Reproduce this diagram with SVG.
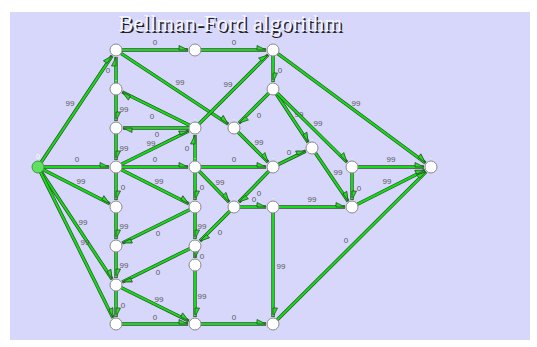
<svg xmlns="http://www.w3.org/2000/svg" width="537" height="347" viewBox="0 0 537 347">
<style>
.o{stroke:#2f4a2f;stroke-width:3.4;fill:none}
.g{stroke:#14dc14;stroke-width:2.1;fill:none;marker-end:url(#ah)}
.w{font-family:"Liberation Sans",Arial,sans-serif;font-size:8px;fill:#5a5a5a;text-anchor:middle}
.n{fill:#fff;stroke:#8a8a8a;stroke-width:1}
.s{fill:#5fe05f;stroke:#3a9a3a;stroke-width:1}
.d{font-family:"Liberation Sans",Arial,sans-serif;font-size:6px;fill:#fff;text-anchor:middle}
.t{font-family:"Liberation Serif","Times New Roman",serif;font-size:23px}
</style>
<defs>
<marker id="ah" markerUnits="userSpaceOnUse" markerWidth="12" markerHeight="12" viewBox="-10 -6 12 12" refX="0" refY="0" orient="auto" overflow="visible">
<path d="M0,0 L-9,-4.5 L-9,0 Z" fill="#22dd22" stroke="#2f4f2f" stroke-width="0.8"/>
</marker>
</defs>
<rect x="10" y="12" width="520" height="328" fill="#d7d7fb"/>
<g id="title">
<text class="t" x="119.5" y="32.5" fill="#222">Bellman-Ford algorithm</text>
<text class="t" x="118" y="31" fill="#f4f4ff">Bellman-Ford algorithm</text>
</g>
<g id="connectors">
<g><line class="o" x1="41.3" y1="162" x2="112.1" y2="55.8"/><line class="g" x1="41.3" y1="162" x2="112.1" y2="55.8"/><text class="w" x="70" y="106">99</text></g>
<g><line class="o" x1="44" y1="167" x2="109" y2="167"/><line class="g" x1="44" y1="167" x2="109" y2="167"/><text class="w" x="77" y="162">0</text></g>
<g><line class="o" x1="43.3" y1="169.7" x2="109.8" y2="203.8"/><line class="g" x1="43.3" y1="169.7" x2="109.8" y2="203.8"/><text class="w" x="81" y="184">99</text></g>
<g><line class="o" x1="41.3" y1="172" x2="112.1" y2="279.2"/><line class="g" x1="41.3" y1="172" x2="112.1" y2="279.2"/><text class="w" x="83" y="225">99</text></g>
<g><line class="o" x1="40.7" y1="172.4" x2="112.9" y2="317.7"/><line class="g" x1="40.7" y1="172.4" x2="112.9" y2="317.7"/><text class="w" x="85" y="245">99</text></g>
<g><line class="o" x1="122" y1="50" x2="188" y2="50"/><line class="g" x1="122" y1="50" x2="188" y2="50"/><text class="w" x="155" y="45">0</text></g>
<g><line class="o" x1="201" y1="50" x2="266" y2="50"/><line class="g" x1="201" y1="50" x2="266" y2="50"/><text class="w" x="234" y="45">0</text></g>
<g><line class="o" x1="116" y1="83" x2="116" y2="57"/><line class="g" x1="116" y1="83" x2="116" y2="57"/><text class="w" x="108" y="73">0</text></g>
<g><line class="o" x1="121" y1="53.3" x2="228.2" y2="124.1"/><line class="g" x1="121" y1="53.3" x2="228.2" y2="124.1"/><text class="w" x="180" y="85">99</text></g>
<g><line class="o" x1="116" y1="95" x2="116" y2="121"/><line class="g" x1="116" y1="95" x2="116" y2="121"/><text class="w" x="124" y="112">99</text></g>
<g><line class="o" x1="189.6" y1="125.3" x2="122.3" y2="92.1"/><line class="g" x1="189.6" y1="125.3" x2="122.3" y2="92.1"/><text class="w" x="152" y="119">0</text></g>
<g><line class="o" x1="189" y1="128" x2="123" y2="128"/><line class="g" x1="189" y1="128" x2="123" y2="128"/><text class="w" x="157" y="137">0</text></g>
<g><line class="o" x1="121.4" y1="164.3" x2="188.7" y2="131.1"/><line class="g" x1="121.4" y1="164.3" x2="188.7" y2="131.1"/><text class="w" x="151" y="146">99</text></g>
<g><line class="o" x1="199.2" y1="123.8" x2="268.1" y2="54.9"/><line class="g" x1="199.2" y1="123.8" x2="268.1" y2="54.9"/><text class="w" x="228" y="87">99</text></g>
<g><line class="o" x1="273" y1="56" x2="273" y2="82"/><line class="g" x1="273" y1="56" x2="273" y2="82"/><text class="w" x="280" y="73">0</text></g>
<g><line class="o" x1="277.8" y1="53.6" x2="425.4" y2="162.8"/><line class="g" x1="277.8" y1="53.6" x2="425.4" y2="162.8"/><text class="w" x="356" y="106">99</text></g>
<g><line class="o" x1="268.8" y1="93.2" x2="238.9" y2="123.1"/><line class="g" x1="268.8" y1="93.2" x2="238.9" y2="123.1"/><text class="w" x="259" y="118">0</text></g>
<g><line class="o" x1="276.3" y1="94" x2="308.1" y2="142.2"/><line class="g" x1="276.3" y1="94" x2="308.1" y2="142.2"/><text class="w" x="299" y="117">99</text></g>
<g><line class="o" x1="277.3" y1="93.2" x2="347" y2="162.1"/><line class="g" x1="277.3" y1="93.2" x2="347" y2="162.1"/><text class="w" x="318" y="126">99</text></g>
<g><line class="o" x1="238.2" y1="132.2" x2="268.1" y2="162.1"/><line class="g" x1="238.2" y1="132.2" x2="268.1" y2="162.1"/><text class="w" x="259" y="145">99</text></g>
<g><line class="o" x1="122" y1="167" x2="188" y2="167"/><line class="g" x1="122" y1="167" x2="188" y2="167"/><text class="w" x="155" y="162">0</text></g>
<g><line class="o" x1="201" y1="167" x2="266" y2="167"/><line class="g" x1="201" y1="167" x2="266" y2="167"/><text class="w" x="234" y="162">0</text></g>
<g><line class="o" x1="195" y1="161" x2="195" y2="135"/><line class="g" x1="195" y1="161" x2="195" y2="135"/><text class="w" x="187" y="151">0</text></g>
<g><line class="o" x1="116" y1="134" x2="116" y2="160"/><line class="g" x1="116" y1="134" x2="116" y2="160"/><text class="w" x="124" y="151">99</text></g>
<g><line class="o" x1="116" y1="173" x2="116" y2="200"/><line class="g" x1="116" y1="173" x2="116" y2="200"/><text class="w" x="123" y="190">0</text></g>
<g><line class="o" x1="121.4" y1="169.7" x2="188.8" y2="203.8"/><line class="g" x1="121.4" y1="169.7" x2="188.8" y2="203.8"/><text class="w" x="159" y="184">99</text></g>
<g><line class="o" x1="195" y1="173" x2="195" y2="200"/><line class="g" x1="195" y1="173" x2="195" y2="200"/><text class="w" x="202" y="190">0</text></g>
<g><line class="o" x1="199.2" y1="171.3" x2="229.1" y2="202"/><line class="g" x1="199.2" y1="171.3" x2="229.1" y2="202"/><text class="w" x="220" y="185">99</text></g>
<g><line class="o" x1="268.8" y1="171.3" x2="238.9" y2="202"/><line class="g" x1="268.8" y1="171.3" x2="238.9" y2="202"/><text class="w" x="259" y="196">0</text></g>
<g><line class="o" x1="240" y1="207" x2="266" y2="207"/><line class="g" x1="240" y1="207" x2="266" y2="207"/><text class="w" x="254" y="202">0</text></g>
<g><line class="o" x1="278.4" y1="164.4" x2="305.7" y2="151.1"/><line class="g" x1="278.4" y1="164.4" x2="305.7" y2="151.1"/><text class="w" x="289" y="155">0</text></g>
<g><line class="o" x1="315.4" y1="153" x2="348.1" y2="201.2"/><line class="g" x1="315.4" y1="153" x2="348.1" y2="201.2"/><text class="w" x="338" y="175">99</text></g>
<g><line class="o" x1="358" y1="167" x2="424" y2="167"/><line class="g" x1="358" y1="167" x2="424" y2="167"/><text class="w" x="391" y="162">99</text></g>
<g><line class="o" x1="352" y1="173" x2="352" y2="200"/><line class="g" x1="352" y1="173" x2="352" y2="200"/><text class="w" x="359" y="191">0</text></g>
<g><line class="o" x1="357.4" y1="204.3" x2="424.8" y2="170.2"/><line class="g" x1="357.4" y1="204.3" x2="424.8" y2="170.2"/><text class="w" x="387" y="184">99</text></g>
<g><line class="o" x1="279" y1="207" x2="345" y2="207"/><line class="g" x1="279" y1="207" x2="345" y2="207"/><text class="w" x="312" y="202">99</text></g>
<g><line class="o" x1="273" y1="213" x2="273" y2="317"/><line class="g" x1="273" y1="213" x2="273" y2="317"/><text class="w" x="281" y="269">99</text></g>
<g><line class="o" x1="277.3" y1="319.8" x2="426" y2="171.9"/><line class="g" x1="277.3" y1="319.8" x2="426" y2="171.9"/><text class="w" x="346" y="243">0</text></g>
<g><line class="o" x1="116" y1="213" x2="116" y2="239"/><line class="g" x1="116" y1="213" x2="116" y2="239"/><text class="w" x="124" y="229">99</text></g>
<g><line class="o" x1="189.6" y1="209.7" x2="122.3" y2="242.9"/><line class="g" x1="189.6" y1="209.7" x2="122.3" y2="242.9"/><text class="w" x="158" y="236">0</text></g>
<g><line class="o" x1="195" y1="213" x2="195" y2="239"/><line class="g" x1="195" y1="213" x2="195" y2="239"/><text class="w" x="202" y="229">99</text></g>
<g><line class="o" x1="229.8" y1="211.2" x2="200" y2="241"/><line class="g" x1="229.8" y1="211.2" x2="200" y2="241"/><text class="w" x="220" y="235">0</text></g>
<g><line class="o" x1="195" y1="252" x2="195" y2="258"/><line class="g" x1="195" y1="252" x2="195" y2="258"/><text class="w" x="202" y="259">0</text></g>
<g><line class="o" x1="189.6" y1="248.7" x2="122.3" y2="281.9"/><line class="g" x1="189.6" y1="248.7" x2="122.3" y2="281.9"/><text class="w" x="158" y="275">0</text></g>
<g><line class="o" x1="116" y1="252" x2="116" y2="278"/><line class="g" x1="116" y1="252" x2="116" y2="278"/><text class="w" x="124" y="268">99</text></g>
<g><line class="o" x1="116" y1="291" x2="116" y2="317"/><line class="g" x1="116" y1="291" x2="116" y2="317"/><text class="w" x="123" y="308">0</text></g>
<g><line class="o" x1="121.4" y1="287.7" x2="188.7" y2="320.9"/><line class="g" x1="121.4" y1="287.7" x2="188.7" y2="320.9"/><text class="w" x="159" y="302">99</text></g>
<g><line class="o" x1="122" y1="324" x2="188" y2="324"/><line class="g" x1="122" y1="324" x2="188" y2="324"/><text class="w" x="155" y="320">0</text></g>
<g><line class="o" x1="195" y1="271" x2="195" y2="317"/><line class="g" x1="195" y1="271" x2="195" y2="317"/><text class="w" x="202" y="299">99</text></g>
<g><line class="o" x1="201" y1="324" x2="266" y2="324"/><line class="g" x1="201" y1="324" x2="266" y2="324"/><text class="w" x="234" y="320">0</text></g>
</g>
<g id="nodes">
<g id="S"><circle class="s" cx="38" cy="167" r="6"/><text class="d" x="38" y="159" style="font-size:7px">0</text></g>
<g id="A1"><circle class="n" cx="116" cy="50" r="6"/><text class="d" x="116" y="42.5">-</text></g>
<g id="A2"><circle class="n" cx="116" cy="89" r="6"/><text class="d" x="116" y="81.5">-</text></g>
<g id="A3"><circle class="n" cx="116" cy="128" r="6"/><text class="d" x="116" y="120.5">-</text></g>
<g id="A4"><circle class="n" cx="116" cy="167" r="6"/><text class="d" x="116" y="159.5">-</text></g>
<g id="A5"><circle class="n" cx="116" cy="207" r="6"/><text class="d" x="116" y="199.5">-</text></g>
<g id="A6"><circle class="n" cx="116" cy="246" r="6"/><text class="d" x="116" y="238.5">-</text></g>
<g id="A7"><circle class="n" cx="116" cy="285" r="6"/><text class="d" x="116" y="277.5">-</text></g>
<g id="A8"><circle class="n" cx="116" cy="324" r="6"/><text class="d" x="116" y="316.5">-</text></g>
<g id="B1"><circle class="n" cx="195" cy="50" r="6"/><text class="d" x="195" y="42.5">-</text></g>
<g id="B3"><circle class="n" cx="195" cy="128" r="6"/><text class="d" x="195" y="120.5">-</text></g>
<g id="B4"><circle class="n" cx="195" cy="167" r="6"/><text class="d" x="195" y="159.5">-</text></g>
<g id="B5"><circle class="n" cx="195" cy="207" r="6"/><text class="d" x="195" y="199.5">-</text></g>
<g id="B6"><circle class="n" cx="195" cy="246" r="6"/><text class="d" x="195" y="238.5">-</text></g>
<g id="B7"><circle class="n" cx="195" cy="265" r="6"/></g>
<g id="B8"><circle class="n" cx="195" cy="324" r="6"/><text class="d" x="195" y="316.5">-</text></g>
<g id="C1"><circle class="n" cx="234" cy="128" r="6"/><text class="d" x="234" y="120.5">-</text></g>
<g id="C2"><circle class="n" cx="234" cy="207" r="6"/><text class="d" x="234" y="199.5">-</text></g>
<g id="D1"><circle class="n" cx="273" cy="50" r="6"/><text class="d" x="273" y="42.5">-</text></g>
<g id="D2"><circle class="n" cx="273" cy="89" r="6"/><text class="d" x="273" y="81.5">-</text></g>
<g id="D4"><circle class="n" cx="273" cy="167" r="6"/><text class="d" x="273" y="159.5">-</text></g>
<g id="D5"><circle class="n" cx="273" cy="207" r="6"/><text class="d" x="273" y="199.5">-</text></g>
<g id="D8"><circle class="n" cx="273" cy="324" r="6"/><text class="d" x="273" y="316.5">-</text></g>
<g id="E"><circle class="n" cx="312" cy="148" r="6"/><text class="d" x="312" y="140.5">-</text></g>
<g id="F1"><circle class="n" cx="352" cy="167" r="6"/><text class="d" x="352" y="159.5">-</text></g>
<g id="F2"><circle class="n" cx="352" cy="207" r="6"/><text class="d" x="352" y="199.5">-</text></g>
<g id="T"><circle class="n" cx="431" cy="167" r="6"/><text class="d" x="431" y="159.5">-</text></g>
</g>
</svg>
